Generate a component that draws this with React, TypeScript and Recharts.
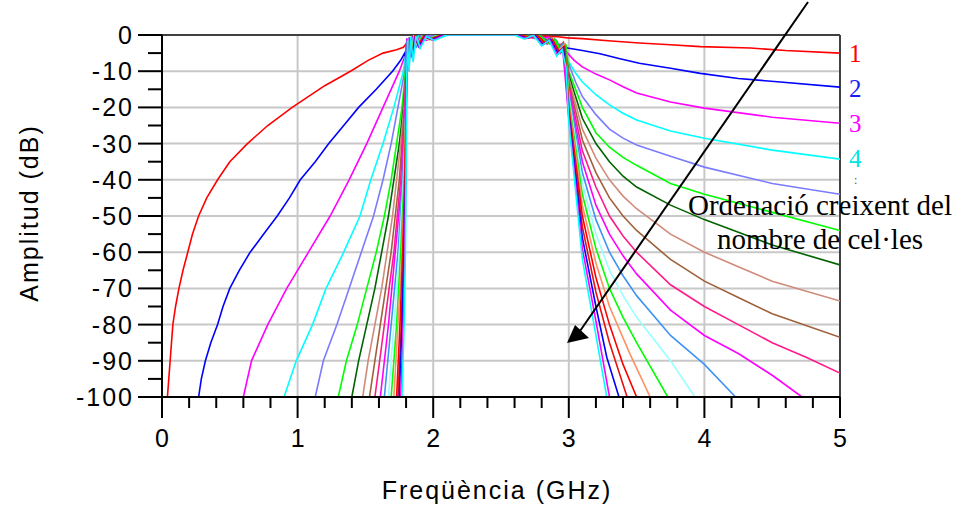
import { LineChart, Line, XAxis, YAxis, ReferenceLine } from 'recharts';

type Pt = [number, number];

// eixos
const xTicks = [0, 0.2, 0.4, 0.6, 0.8, 1, 1.2, 1.4, 1.6, 1.8, 2, 2.2, 2.4, 2.6, 2.8, 3, 3.2, 3.4, 3.6, 3.8, 4, 4.2, 4.4, 4.6, 4.8, 5];
const yTicks = [0, -5, -10, -15, -20, -25, -30, -35, -40, -45, -50, -55, -60, -65, -70, -75, -80, -85, -90, -95, -100];
const xGrid = [1, 2, 3, 4];
const yGrid = [-10, -20, -30, -40, -50, -60, -70, -80, -90];

// etiquetes del nombre de cel·les a la dreta
const cellLabels = ['1', '2', '3', '4'];
const cellLabelColors = ['#ff0000', '#1a1aff', '#ff00ff', '#00e5e5'];

// colors de cada corba (1..20 cel·les)
const colors = [
  '#ff0000', '#0000ff', '#ff00ff', '#00ffff', '#7b7bff',
  '#00ff00', '#006400', '#d08a7a', '#a0603a', '#ff1a8c',
  '#ff00ff', '#3d94f5', '#99ffff', '#00ff00', '#ff9060',
  '#ff0000', '#e81010', '#0000ff', '#ff00ff', '#00ffff',
];

// [GHz, dB]
const c1: Pt[] = [[0.04,-100],[0.05,-95],[0.06,-90],[0.08,-80],[0.1,-75],[0.125,-70],[0.155,-65],[0.19,-60],[0.225,-55],[0.27,-50],[0.33,-45],[0.41,-40],[0.5,-35],[0.63,-30],[0.78,-25],[0.96,-20],[1.2,-14],[1.39,-10],[1.52,-7],[1.63,-5],[1.73,-4.1],[1.78,-3.4],[1.81,-2],[1.84,-1.2],[1.9,-0.6],[2.0,-0.2],[2.1,0],[2.7,0],[2.82,-0.3],[2.92,-0.5],[2.99,-0.8],[3.1,-1.0],[3.29,-1.6],[3.52,-2.2],[3.75,-2.7],[3.97,-3.2],[4.34,-3.6],[4.6,-4.3],[5,-5]];
const c2: Pt[] = [[0.27,-100],[0.29,-95],[0.32,-90],[0.36,-85],[0.41,-80],[0.45,-75],[0.5,-70],[0.57,-65],[0.65,-60],[0.75,-55],[0.85,-50],[0.94,-45],[1.02,-40],[1.13,-35],[1.23,-30],[1.34,-25],[1.45,-20],[1.58,-15],[1.7,-10],[1.76,-7],[1.79,-5],[1.8,-8],[1.805,-1],[1.815,-4],[1.83,-1],[1.86,-1.8],[1.92,-0.4],[2.05,0],[2.68,0],[2.78,-0.6],[2.86,-1.5],[2.93,-2.6],[2.99,-3.6],[3.1,-4.3],[3.23,-5.2],[3.37,-6.5],[3.52,-7.8],[3.75,-9.2],[3.97,-10.6],[4.25,-12],[4.56,-13],[5,-14.4]];
const c3: Pt[] = [[0.6,-100],[0.66,-90],[0.78,-80],[0.92,-70],[1.08,-60],[1.24,-50],[1.38,-40],[1.51,-30],[1.63,-20],[1.75,-10],[1.79,-6],[1.8,-9],[1.806,-1],[1.818,-5],[1.83,-0.6],[1.85,-2.5],[1.88,-0.5],[1.93,-1],[2.0,0],[2.7,0],[2.8,-1],[2.85,-0.6],[2.9,-3],[2.95,-2.5],[2.99,-5],[3.04,-7],[3.1,-8.8],[3.2,-10.8],[3.3,-12.4],[3.4,-14.3],[3.5,-16],[3.75,-18.5],[4.0,-20.2],[4.5,-22.7],[5,-24.4]];
const c4: Pt[] = [[0.9,-100],[0.99,-90],[1.11,-80],[1.21,-70],[1.34,-60],[1.46,-50],[1.54,-40],[1.63,-30],[1.71,-20],[1.78,-10],[1.795,-6],[1.8,-10],[1.805,-2],[1.81,-8],[1.82,-1],[1.828,-6],[1.84,-0.5],[1.86,-3.5],[1.89,-0.3],[1.93,-1.5],[1.98,-0.2],[2.05,-0.6],[2.12,0],[2.62,0],[2.7,-0.6],[2.76,0],[2.82,-2],[2.87,-0.8],[2.92,-4],[2.95,-2.5],[2.98,-7],[3.0,-7.5],[3.05,-10.5],[3.1,-13],[3.2,-16.5],[3.3,-19.3],[3.4,-21.6],[3.5,-23.5],[3.75,-26.5],[4.0,-28.5],[4.5,-31.8],[5,-34.3]];
const c5: Pt[] = [[1.13,-100],[1.19,-90],[1.29,-80],[1.38,-70],[1.47,-60],[1.56,-50],[1.63,-40],[1.69,-30],[1.74,-20],[1.79,-10],[1.8,-6],[1.806,-2],[1.814,-7],[1.825,-1],[1.84,-4],[1.86,-0.5],[1.9,-2],[1.95,-0.3],[2.05,0],[2.68,0],[2.75,-1],[2.8,-0.3],[2.86,-2.5],[2.91,-1.5],[2.96,-5],[3.0,-8],[3.05,-13],[3.1,-17],[3.2,-22],[3.3,-26],[3.4,-28.5],[3.5,-30.4],[3.75,-33.5],[4.0,-36.5],[4.5,-41],[5,-44]];
const c6: Pt[] = [[1.3,-100],[1.36,-90],[1.44,-80],[1.51,-70],[1.58,-60],[1.64,-50],[1.69,-40],[1.73,-30],[1.77,-20],[1.795,-10],[1.8,-5],[1.807,-9],[1.815,-1],[1.826,-5],[1.84,-0.8],[1.87,-3],[1.91,-0.4],[1.96,-1.2],[2.04,0],[2.66,0],[2.74,-0.8],[2.79,-0.2],[2.85,-2.2],[2.9,-1.2],[2.95,-4.5],[2.98,-3],[3.0,-10],[3.05,-15],[3.1,-20],[3.2,-27],[3.3,-31],[3.4,-33.8],[3.5,-36],[3.75,-41],[4.0,-44],[4.5,-49],[5,-54]];
const c7: Pt[] = [[1.4,-100],[1.45,-90],[1.51,-80],[1.57,-70],[1.62,-60],[1.67,-50],[1.71,-40],[1.75,-30],[1.78,-20],[1.8,-10],[1.803,-3],[1.81,-8],[1.82,-1],[1.832,-5],[1.85,-0.4],[1.88,-2.5],[1.92,-0.3],[1.98,-1],[2.06,0],[2.67,0],[2.73,-0.7],[2.78,0],[2.84,-2.4],[2.89,-1],[2.94,-4.8],[2.97,-3],[3.0,-11],[3.05,-17],[3.1,-23],[3.2,-30],[3.3,-35],[3.4,-39],[3.5,-42],[3.75,-47],[4.0,-51],[4.5,-58],[5,-63.5]];
const c8: Pt[] = [[1.48,-100],[1.52,-90],[1.57,-80],[1.62,-70],[1.66,-60],[1.7,-50],[1.73,-40],[1.76,-30],[1.785,-20],[1.8,-10],[1.804,-4],[1.811,-9],[1.82,-1.5],[1.83,-6],[1.845,-0.5],[1.87,-3],[1.9,-0.4],[1.95,-1.5],[2.02,0],[2.64,0],[2.72,-0.9],[2.77,-0.1],[2.83,-2],[2.88,-0.8],[2.93,-4],[2.97,-2.5],[3.0,-12],[3.05,-19],[3.1,-26],[3.2,-34],[3.3,-40],[3.4,-44.5],[3.5,-48],[3.75,-55],[4.0,-60],[4.25,-64],[4.5,-68],[5,-73.5]];
const c9: Pt[] = [[1.53,-100],[1.57,-90],[1.61,-80],[1.65,-70],[1.69,-60],[1.72,-50],[1.75,-40],[1.77,-30],[1.79,-20],[1.8,-10],[1.805,-2],[1.812,-7],[1.822,-0.6],[1.836,-4.5],[1.855,-0.3],[1.88,-2],[1.92,-0.5],[1.97,-1.3],[2.05,0],[2.66,0],[2.71,-0.6],[2.76,-0.1],[2.82,-1.8],[2.87,-0.6],[2.92,-3.6],[2.96,-2],[2.99,-8],[3.0,-13],[3.05,-21],[3.1,-29],[3.2,-38],[3.3,-45],[3.4,-50],[3.5,-54],[3.75,-62],[4.0,-68],[4.25,-72.5],[4.5,-77],[5,-83.5]];
const c10: Pt[] = [[1.57,-100],[1.64,-80],[1.71,-60],[1.76,-40],[1.79,-20],[1.8,-10],[1.806,-3],[1.813,-8],[1.823,-1],[1.838,-5],[1.856,-0.4],[1.88,-2.8],[1.91,-0.2],[1.96,-1],[2.03,0],[2.65,0],[2.72,-0.8],[2.77,-0.2],[2.83,-2.2],[2.88,-1],[2.93,-4.2],[2.97,-2.8],[3.0,-14],[3.05,-23],[3.1,-32],[3.2,-42],[3.3,-50],[3.4,-55.5],[3.5,-60],[3.75,-69],[4.0,-75],[4.25,-80],[4.5,-85],[4.75,-89],[5,-93.4]];
const c11: Pt[] = [[1.61,-100],[1.67,-80],[1.72,-60],[1.77,-40],[1.795,-20],[1.8,-10],[1.805,-2],[1.812,-9],[1.821,-0.8],[1.834,-6],[1.85,-0.3],[1.875,-3],[1.905,-0.4],[1.95,-1.4],[2.02,0],[2.66,0],[2.73,-0.9],[2.78,-0.1],[2.84,-2.5],[2.89,-1.2],[2.94,-5],[2.97,-3.2],[3.0,-15],[3.05,-25],[3.1,-35],[3.2,-47],[3.3,-55],[3.4,-61],[3.5,-66],[3.75,-76],[4.0,-83],[4.25,-88],[4.5,-94],[4.72,-100]];
const c12: Pt[] = [[1.64,-100],[1.69,-80],[1.74,-60],[1.775,-40],[1.8,-20],[1.802,-10],[1.806,-3],[1.814,-8.5],[1.824,-1],[1.837,-5.5],[1.853,-0.6],[1.878,-3.2],[1.91,-0.3],[1.955,-1.1],[2.03,0],[2.64,0],[2.71,-0.7],[2.76,0],[2.82,-2.1],[2.87,-0.9],[2.92,-4.1],[2.96,-2.4],[3.0,-16],[3.05,-27],[3.1,-38],[3.2,-51],[3.3,-60],[3.4,-66.5],[3.5,-72],[3.75,-83],[4.0,-91],[4.23,-100]];
const c13: Pt[] = [[1.67,-100],[1.71,-80],[1.75,-60],[1.78,-40],[1.8,-20],[1.802,-10],[1.807,-2.5],[1.815,-9],[1.826,-0.7],[1.84,-6],[1.857,-0.4],[1.882,-2.6],[1.915,-0.5],[1.96,-1.2],[2.04,0],[2.65,0],[2.72,-0.8],[2.775,-0.1],[2.835,-2.3],[2.885,-1.1],[2.935,-4.4],[2.97,-3],[3.0,-17],[3.05,-29],[3.1,-41],[3.2,-55],[3.3,-65],[3.4,-72],[3.5,-78],[3.75,-90],[3.93,-100]];
const c14: Pt[] = [[1.69,-100],[1.73,-80],[1.76,-60],[1.785,-40],[1.8,-20],[1.803,-10],[1.807,-3],[1.816,-8],[1.827,-1.2],[1.842,-5],[1.86,-0.5],[1.885,-2.4],[1.92,-0.3],[1.97,-1],[2.05,0],[2.66,0],[2.73,-0.6],[2.78,-0.1],[2.845,-2.4],[2.895,-1.3],[2.94,-4.6],[2.975,-3.4],[3.0,-18],[3.05,-31],[3.1,-44],[3.2,-59],[3.3,-70],[3.4,-78],[3.5,-85],[3.73,-100]];
const c15: Pt[] = [[1.71,-100],[1.74,-80],[1.77,-60],[1.79,-40],[1.8,-20],[1.803,-10],[1.808,-2],[1.817,-9],[1.828,-0.8],[1.843,-6],[1.862,-0.3],[1.888,-2.9],[1.925,-0.4],[1.975,-1.3],[2.06,0],[2.64,0],[2.71,-0.8],[2.765,-0.2],[2.825,-2.2],[2.875,-1],[2.925,-4.3],[2.965,-2.7],[3.0,-19],[3.05,-33],[3.1,-47],[3.2,-63],[3.3,-75],[3.45,-88],[3.6,-100]];
const c16: Pt[] = [[1.73,-100],[1.755,-80],[1.775,-60],[1.79,-40],[1.8,-20],[1.804,-10],[1.808,-2.5],[1.818,-8.5],[1.829,-1],[1.845,-5.5],[1.864,-0.5],[1.89,-2.7],[1.93,-0.3],[1.98,-1.1],[2.06,0],[2.65,0],[2.72,-0.7],[2.77,-0.1],[2.83,-2.3],[2.88,-1.2],[2.93,-4.5],[2.97,-3.1],[3.0,-20],[3.05,-35],[3.1,-50],[3.2,-67],[3.3,-80],[3.4,-91],[3.5,-100]];
const c17: Pt[] = [[1.74,-100],[1.765,-80],[1.78,-60],[1.795,-40],[1.801,-20],[1.804,-10],[1.809,-3],[1.819,-9],[1.83,-1.1],[1.846,-6],[1.866,-0.4],[1.892,-3],[1.935,-0.5],[1.985,-1.2],[2.07,0],[2.63,0],[2.7,-0.8],[2.76,-0.2],[2.82,-2.4],[2.87,-1.3],[2.925,-4.8],[2.965,-3.3],[3.0,-21],[3.05,-37],[3.1,-53],[3.2,-71],[3.3,-85],[3.43,-100]];
const c18: Pt[] = [[1.75,-100],[1.77,-80],[1.785,-60],[1.797,-40],[1.801,-20],[1.805,-10],[1.809,-2],[1.82,-9.5],[1.831,-0.6],[1.848,-6.5],[1.868,-0.5],[1.895,-3.2],[1.94,-0.4],[1.99,-1.3],[2.08,0],[2.62,0],[2.69,-0.9],[2.75,-0.1],[2.81,-2.6],[2.865,-1.2],[2.92,-5],[2.96,-3.5],[3.0,-22],[3.05,-39],[3.1,-56],[3.2,-75],[3.28,-89],[3.37,-100]];
const c19: Pt[] = [[1.76,-100],[1.78,-80],[1.79,-60],[1.798,-40],[1.802,-20],[1.805,-10],[1.81,-2.2],[1.821,-10],[1.832,-1],[1.85,-7],[1.87,-0.4],[1.9,-3.4],[1.945,-0.3],[2.0,-1.4],[2.09,0],[2.61,0],[2.68,-1],[2.745,-0.2],[2.805,-2.8],[2.86,-1.4],[2.915,-5.4],[2.955,-3.8],[3.0,-23],[3.05,-41],[3.1,-59],[3.2,-79],[3.3,-100]];
const c20: Pt[] = [[1.77,-100],[1.785,-80],[1.795,-60],[1.8,-40],[1.803,-20],[1.806,-10],[1.81,-1.5],[1.822,-10],[1.834,-0.5],[1.852,-7.5],[1.873,-0.3],[1.905,-3.6],[1.95,-0.4],[2.01,-1.5],[2.1,0],[2.6,0],[2.67,-1.1],[2.74,-0.1],[2.8,-3],[2.855,-1.5],[2.91,-5.8],[2.95,-4],[2.98,-9],[3.0,-24],[3.05,-43],[3.1,-62],[3.2,-83],[3.28,-100]];

const curves = [c1, c2, c3, c4, c5, c6, c7, c8, c9, c10, c11, c12, c13, c14, c15, c16, c17, c18, c19, c20];

const sans = '"Liberation Sans", Arial, sans-serif';
const serif = '"Liberation Serif", "Times New Roman", serif';

const XTick = (props: any) => {
  const { x, y, payload } = props;
  const v = payload.value;
  const major = Math.abs(v - Math.round(v)) < 1e-6;
  return (
    <g>
      <line x1={x} x2={x} y1={y} y2={y + (major ? 21 : 11)} stroke="#000" strokeWidth={2} />
      {major && (
        <text x={x + 1} y={y + 50} textAnchor="middle" fontSize={25} fontFamily={sans} letterSpacing={2} fill="#000">
          {Math.round(v)}
        </text>
      )}
    </g>
  );
};

const YTick = (props: any) => {
  const { x, y, payload } = props;
  const v = payload.value;
  const major = v % 10 === 0;
  return (
    <g>
      <line x1={x - (major ? 24 : 14)} x2={x} y1={y} y2={y} stroke="#000" strokeWidth={2} />
      {major && (
        <text x={x - 28} y={y + 9} textAnchor="end" fontSize={25} fontFamily={sans} letterSpacing={2} fill="#000">
          {v}
        </text>
      )}
    </g>
  );
};

export default function App() {
  return (
    <div style={{ position: 'absolute', left: 0, top: 0, width: 960, height: 516, background: '#fff' }}>
      <LineChart width={960} height={516} margin={{ top: 35, right: 120, bottom: 59, left: 0 }}>
        <XAxis
          type="number"
          dataKey="x"
          domain={[0, 5]}
          ticks={xTicks}
          interval={0}
          allowDataOverflow
          height={60}
          tickSize={0}
          tickMargin={0}
          tickLine={false}
          axisLine={{ stroke: '#000', strokeWidth: 2 }}
          tick={<XTick />}
        />
        <YAxis
          type="number"
          domain={[-100, 0]}
          ticks={yTicks}
          interval={0}
          allowDataOverflow
          width={162}
          tickSize={0}
          tickMargin={0}
          tickLine={false}
          axisLine={{ stroke: '#000', strokeWidth: 2 }}
          tick={<YTick />}
        />
        {/* graella */}
        {xGrid.map((v) => (
          <ReferenceLine key={`gx-${v}`} x={v} stroke="#c8c8c8" strokeWidth={2} />
        ))}
        {yGrid.map((v) => (
          <ReferenceLine key={`gy-${v}`} y={v} stroke="#c8c8c8" strokeWidth={2} />
        ))}
        <ReferenceLine y={0} stroke="#404040" strokeWidth={2} />
        <ReferenceLine x={5} stroke="#404040" strokeWidth={2} />
        {curves.map((pts, i) => (
          <Line
            key={`cel-${i + 1}`}
            data={pts.map(([x, y]) => ({ x, y }))}
            dataKey="y"
            type="linear"
            stroke={colors[i]}
            strokeWidth={1.6}
            dot={false}
            activeDot={false}
            isAnimationActive={false}
          />
        ))}
      </LineChart>
      {/* títols i anotacions */}
      <svg width={960} height={516} style={{ position: 'absolute', left: 0, top: 0, pointerEvents: 'none' }}>
        <text transform="translate(38,213) rotate(-90)" textAnchor="middle" fontSize={25} fontFamily={sans} letterSpacing={2} fill="#000">
          Amplitud (dB)
        </text>
        <text x={497} y={499} textAnchor="middle" fontSize={25} fontFamily={sans} letterSpacing={2} fill="#000">
          Freqüència (GHz)
        </text>
        {cellLabels.map((t, i) => (
          <text key={t} x={849} y={62 + i * 35} fontSize={25} fontFamily={serif} fill={cellLabelColors[i]}>
            {t}
          </text>
        ))}
        <text x={854} y={184} fontSize={12} fontFamily={serif} fill="#555">:</text>
        <text x={820} y={215} textAnchor="middle" fontSize={29} fontFamily={serif} fill="#000">
          Ordenació creixent del
        </text>
        <text x={820} y={249} textAnchor="middle" fontSize={29} fontFamily={serif} fill="#000">
          nombre de cel·les
        </text>
        <line x1={808} y1={2} x2={580} y2={331} stroke="#000" strokeWidth={2} />
        <polygon points="567,343 575,325 589,338" fill="#000" />
      </svg>
    </div>
  );
}
